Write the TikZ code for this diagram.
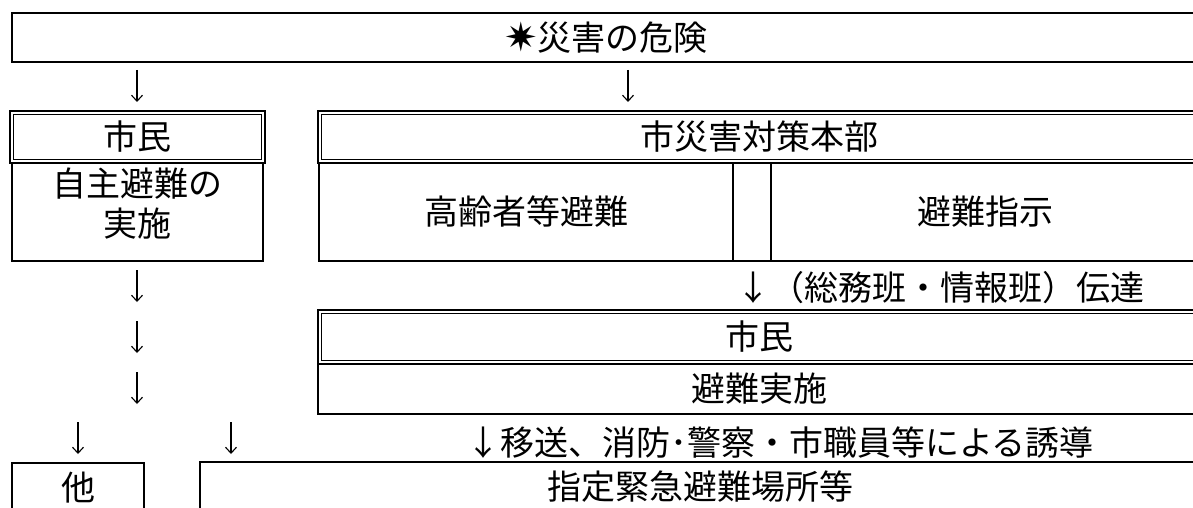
\documentclass[tikz,border=0pt]{standalone}
\usepackage{fontspec}
\setmainfont{Noto Sans CJK JP}
\newfontfamily\symfnt{DejaVu Sans}
\usetikzlibrary{arrows.meta}
\newcommand\bigjp{\fontsize{34}{40}\selectfont}
\begin{document}
\begin{tikzpicture}[x=1pt,y=-1pt,
  box/.style={draw, line width=2pt, inner sep=0pt, outer sep=0pt, anchor=north west, font=\bigjp},
  dbl/.style={box, line width=2.6pt},
  inner/.style={line width=1.1pt},
  txt/.style={inner sep=0pt, outer sep=0pt, font=\bigjp},
  arr/.style={-{Straight Barb[length=6pt,width=11pt]}, line width=1.1pt},
]
\useasboundingbox (0,0) rectangle (1193,508);

% top
\node[box, minimum width=1188pt, minimum height=49pt] (top) at (12,13) {\smash{\symfnt\fontsize{40}{40}\selectfont\raisebox{-1pt}{✷}}災害の危険};

% row 2
\node[dbl, minimum width=255pt, minimum height=52pt] (shimin1) at (10,111) {市民};
\draw[inner] ([shift={(3.6,3.6)}]shimin1.north west) rectangle ([shift={(-3.6,-3.6)}]shimin1.south east);
\node[dbl, minimum width=882pt, minimum height=52pt] (honbu) at (318,111) {市災害対策本部};
\draw[inner] ([shift={(3.6,3.6)}]honbu.north west) rectangle ([shift={(-3.6,-3.6)}]honbu.south east);

% row 3
\node[box, minimum width=251pt, minimum height=98pt] (jishu) at (12,163) {};
\node[txt, align=center] (jishuT) at (137.5,204) {自主避難の\\実施};
\node[box, minimum width=414pt, minimum height=98pt] (koreisha) at (319,163) {高齢者等避難};
\node[box, minimum width=38pt, minimum height=98pt] (gap) at (733,163) {};
\node[box, minimum width=429pt, minimum height=98pt] (shiji) at (771,163) {避難指示};

% transmission label
\node[txt, anchor=west] (dentatsu) at (736,288) {↓（総務班・情報班）伝達};

% row 4
\node[box, minimum width=882pt, minimum height=50pt] (jisshi) at (318,364) {避難実施};
\node[dbl, minimum width=882pt, minimum height=54pt] (shimin2) at (318,310) {市民};
\draw[inner] ([shift={(3.6,3.6)}]shimin2.north west) rectangle ([shift={(-3.6,-3.6)}]shimin2.south east);

% guidance label
\node[txt, anchor=west] (yudo) at (466,443) {↓移送、消防･警察・市職員等による誘導};

% bottom row
\node[box, minimum width=132pt, minimum height=50pt] (hoka) at (12,463) {他};
\node[box, minimum width=1000pt, minimum height=50pt] (shitei) at (200,462) {指定緊急避難場所等};

% arrows
\coordinate (a1s) at (137,70);  \coordinate (a1e) at (137,102);
\coordinate (a2s) at (628,70);  \coordinate (a2e) at (628,102);
\coordinate (a3s) at (137,270); \coordinate (a3e) at (137,302);
\coordinate (a4s) at (137,321); \coordinate (a4e) at (137,353);
\coordinate (a5s) at (137,372); \coordinate (a5e) at (137,404);
\coordinate (a6s) at (78,422);  \coordinate (a6e) at (78,454);
\coordinate (a7s) at (231,422); \coordinate (a7e) at (231,454);
\foreach \i in {1,...,7} { \draw[arr] (a\i s) -- (a\i e); }
\end{tikzpicture}
\end{document}
